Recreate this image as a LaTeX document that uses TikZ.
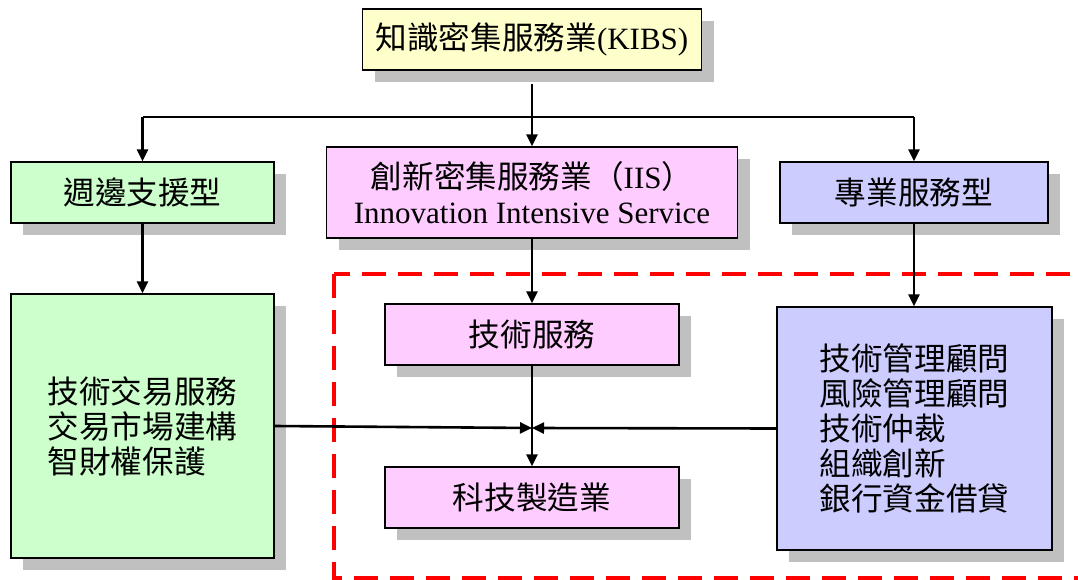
\documentclass[tikz,border=0pt]{standalone}
\usepackage{fontspec}
\setmainfont{Liberation Serif}
\newfontfamily\cjk{Noto Sans CJK TC}[Scale=1.02]
\usetikzlibrary{arrows.meta,shadows}
\definecolor{cyel}{RGB}{255,255,204}
\definecolor{cgrn}{RGB}{204,255,204}
\definecolor{cpnk}{RGB}{255,204,255}
\definecolor{cblu}{RGB}{204,204,255}
\definecolor{cshd}{RGB}{192,192,192}
\definecolor{cred}{RGB}{255,0,0}
\tikzset{
  boxnode/.style={draw=black, line width=1.3pt, inner sep=0pt, align=center,
    font=\fontsize{31}{35}\selectfont,
    drop shadow={shadow xshift=12pt, shadow yshift=-12pt, fill=cshd, opacity=1}},
  conn/.style={line width=2.6pt, draw=black},
  arr/.style={conn, -{Triangle[length=12pt,width=11pt]}},
  dashbox/.style={draw=cred, line width=4pt, dash pattern=on 24pt off 12pt}
}
\begin{document}
\begin{tikzpicture}[x=1pt,y=-1pt]
\useasboundingbox (0,0) rectangle (1078,580);
\draw[dashbox] (334,274) rectangle (1100,578);
\node[boxnode, fill=cyel, minimum width=339pt, minimum height=61pt] (top) at (532,39.5) {{\cjk 知識密集服務業}(KIBS)};
\node[boxnode, fill=cgrn, minimum width=263pt, minimum height=61pt] (zhou) at (142.5,192.5) {\cjk 週邊支援型};
\node[boxnode, fill=cpnk, minimum width=411pt, minimum height=91pt] (mid) at (532,192.5) {{\cjk 創新密集服務業（}IIS{\cjk ）}\\Innovation Intensive Service};
\node[boxnode, fill=cblu, minimum width=268pt, minimum height=61pt] (zhuan) at (914,192.5) {\cjk 專業服務型};
\node[boxnode, fill=cpnk, minimum width=294pt, minimum height=61pt] (jishu) at (532,334.5) {\cjk 技術服務};
\node[boxnode, fill=cpnk, minimum width=294pt, minimum height=61pt] (keji) at (532,497.5) {\cjk 科技製造業};
\node[boxnode, fill=cgrn, minimum width=263pt, minimum height=264pt, align=left] (lbox) at (142.5,426) {\cjk 技術交易服務\\\cjk 交易市場建構\\\cjk 智財權保護};
\node[boxnode, fill=cblu, minimum width=275pt, minimum height=243pt, align=left] (rbox) at (914.5,428.5) {\cjk 技術管理顧問\\\cjk 風險管理顧問\\\cjk 技術仲裁\\\cjk 組織創新\\\cjk 銀行資金借貸};
\coordinate (br) at (532,117);
\coordinate (jn) at (532,428);
\draw[conn] ([yshift=-13pt]top.south) -- (br);
\draw[conn] (zhou.north |- br) -- (zhuan.north |- br);
\draw[arr] (zhou.north |- br) -- (zhou.north);
\draw[arr] (br) -- (mid.north);
\draw[arr] (zhuan.north |- br) -- (zhuan.north);
\draw[arr] (zhou.south) -- (lbox.north);
\draw[arr] (zhuan.south) -- (rbox.north -| zhuan.south);
\draw[arr] (mid.south) -- (jishu.north);
\draw[arr] (jishu.south) -- (keji.north);
\draw[arr] (lbox.east) -- (jn);
\draw[arr] (rbox.west) -- (jn);
\end{tikzpicture}
\end{document}
